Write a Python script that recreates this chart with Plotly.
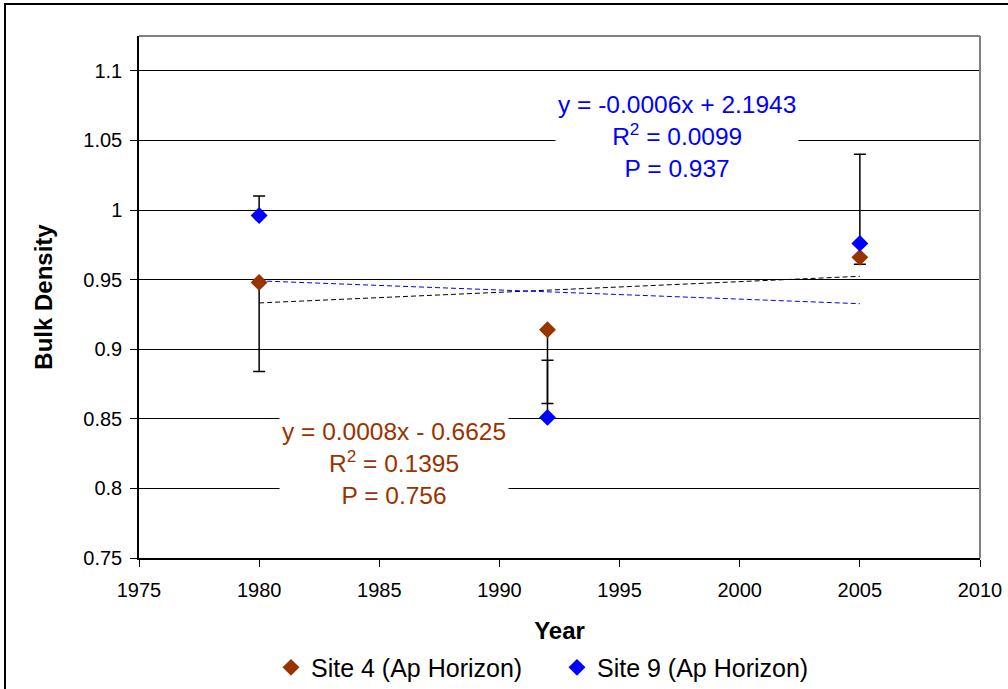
import numpy as np
import plotly.graph_objects as go

# ---- data ----
years = [1980, 1992, 2005]
site4 = [0.948, 0.914, 0.966]
site9 = [0.996, 0.851, 0.976]
site4_err_minus = [0.064, 0.053, 0.005]
site9_err_plus = [0.014, 0.041, 0.064]
site4_eq = ["y = 0.0008x - 0.6625", "R<sup>2</sup> = 0.1395", "P = 0.756"]
site9_eq = ["y = -0.0006x + 2.1943", "R<sup>2</sup> = 0.0099", "P = 0.937"]
y_ticks = [0.75, 0.8, 0.85, 0.9, 0.95, 1.0, 1.05, 1.1]
y_ticktext = ["0.75", "0.8", "0.85", "0.9", "0.95", "1", "1.05", "1.1"]
x_ticks = [1975, 1980, 1985, 1990, 1995, 2000, 2005, 2010]

BROWN = "#993300"
BLUE = "#0000FF"
FONT = "Liberation Sans, Arial, sans-serif"

fig = go.Figure()

# trendlines (linear fits)
for ys, col in [(site4, "#000000"), (site9, BLUE)]:
    m, b = np.polyfit(years, ys, 1)
    xs = [years[0], years[-1]]
    fig.add_trace(go.Scatter(
        x=xs, y=[m * x + b for x in xs], mode="lines",
        line=dict(color=col, width=1, dash="5px,3px"),
        showlegend=False, hoverinfo="skip"))

fig.add_trace(go.Scatter(
    x=years, y=site4, mode="markers", name="Site 4 (Ap Horizon)",
    marker=dict(symbol="diamond", size=13, color=BROWN),
    error_y=dict(type="data", symmetric=False, array=[0, 0, 0],
                 arrayminus=site4_err_minus, color="black", thickness=1.5, width=6)))
fig.add_trace(go.Scatter(
    x=years, y=site9, mode="markers", name="Site 9 (Ap Horizon)",
    marker=dict(symbol="diamond", size=13, color=BLUE),
    error_y=dict(type="data", symmetric=False, array=site9_err_plus,
                 arrayminus=[0, 0, 0], color="black", thickness=1.5, width=6)))

fig.add_annotation(x=1997.4, y=1.053, xref="x", yref="y", showarrow=False,
                   text="<br>".join(site9_eq), font=dict(family=FONT, size=24.5, color=BLUE),
                   bgcolor="white", borderpad=2, align="center")
fig.add_annotation(x=1985.6, y=0.818, xref="x", yref="y", showarrow=False,
                   text="<br>".join(site4_eq), font=dict(family=FONT, size=24.5, color=BROWN),
                   bgcolor="white", borderpad=2, align="center")

# outer chart frame (partially visible)
fig.add_shape(type="rect", xref="paper", yref="paper",
              x0=(5 - 139) / 841, x1=1.2, y0=-0.4, y1=(558 - 4) / 522,
              line=dict(color="black", width=2), layer="below")
# grey top/right plot border
fig.add_shape(type="line", xref="paper", yref="paper", x0=0, x1=1, y0=1, y1=1,
              line=dict(color="#808080", width=2))
fig.add_shape(type="line", xref="paper", yref="paper", x0=1, x1=1, y0=0, y1=1,
              line=dict(color="#808080", width=2))

fig.update_layout(
    width=1008, height=689,
    margin=dict(l=139, r=28, t=36, b=131, autoexpand=False),
    paper_bgcolor="white", plot_bgcolor="white",
    font=dict(family=FONT, size=20, color="black"),
    showlegend=True,
    legend=dict(orientation="h", x=0.497, xanchor="center", y=-0.21, yanchor="middle",
                font=dict(size=25), bgcolor="rgba(0,0,0,0)",
                entrywidth=241, entrywidthmode="pixels", itemwidth=30),
    xaxis=dict(range=[1975, 2010], tickvals=x_ticks, showgrid=False, zeroline=False,
               showline=True, linecolor="black", linewidth=1.5, automargin=False,
               ticks="outside", ticklen=7, tickcolor="black", tickwidth=1,
               tickfont=dict(size=20), ticklabelstandoff=6,
               title=dict(text="<b>Year</b>", font=dict(size=24), standoff=22)),
    yaxis=dict(range=[0.75, 1.125], tickvals=y_ticks, ticktext=y_ticktext,
               showgrid=True, gridcolor="black", gridwidth=1, zeroline=False,
               showline=True, linecolor="black", linewidth=1.5, automargin=False,
               ticks="outside", ticklen=7, tickcolor="black", tickwidth=1,
               tickfont=dict(size=20), ticklabelstandoff=4,
               title=dict(text="<b>Bulk Density</b>", font=dict(size=24), standoff=24)),
)

fig.write_html("out.html")
